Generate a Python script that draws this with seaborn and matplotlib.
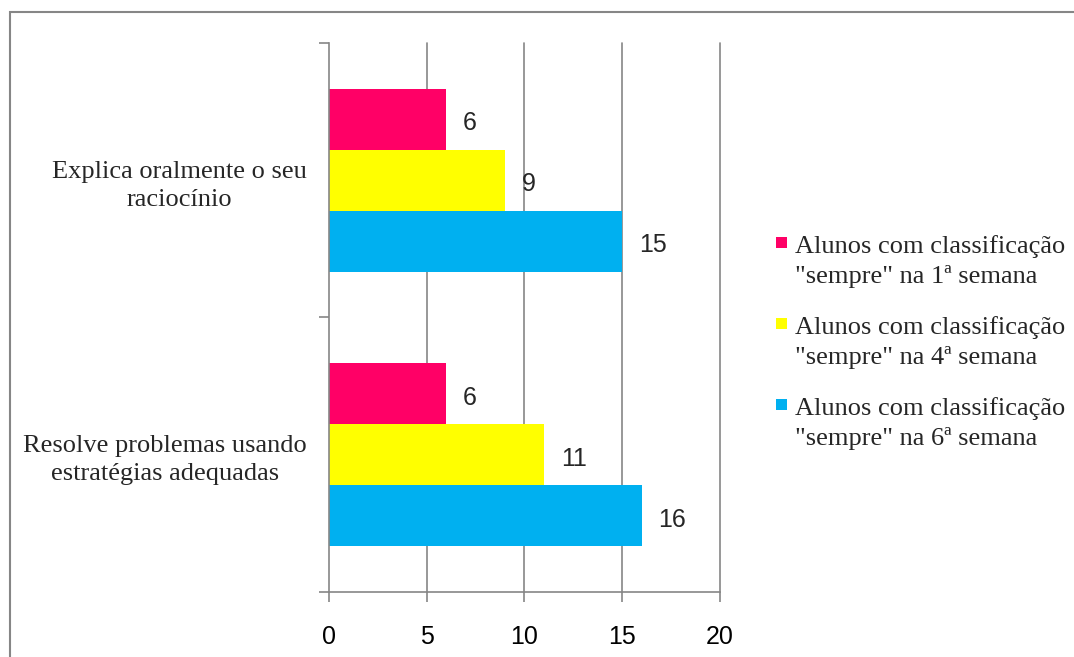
import pandas as pd
import numpy as np
import matplotlib
matplotlib.use('Agg')
import matplotlib.pyplot as plt
import seaborn as sns
from matplotlib.patches import Rectangle

sns.set_style("white")

# dados
categorias = ['Explica oralmente o seu\nraciocínio', 'Resolve problemas usando\nestratégias adequadas']
series = ['Alunos com classificação\n"sempre" na 1ª semana',
          'Alunos com classificação\n"sempre" na 4ª semana',
          'Alunos com classificação\n"sempre" na 6ª semana']
semana1 = [6, 6]
semana4 = [9, 11]
semana6 = [15, 16]
cores = ['#FF0066', '#FFFF00', '#00B0F0']

df = pd.DataFrame({
    'Categoria': categorias * 3,
    'Serie': [series[0]] * 2 + [series[1]] * 2 + [series[2]] * 2,
    'Valor': semana1 + semana4 + semana6,
})

fig = plt.figure(figsize=(10.74, 6.57), dpi=100)
ax = fig.add_axes([0.3063, 0.0989, 0.364, 0.8357])

sns.barplot(data=df, y='Categoria', x='Valor', hue='Serie', order=categorias,
            hue_order=series, palette=cores, orient='h', width=0.667,
            saturation=1, linewidth=0, ax=ax, errorbar=None, legend=False)

cinza = '#868686'
ax.set_xlim(0, 20)
ax.set_ylim(1.5, -0.5)
ax.set_xticks([0, 5, 10, 15, 20])
for v in [5, 10, 15, 20]:
    ax.axvline(v, color=cinza, linewidth=1.2, zorder=0, clip_on=False)
for s in ['top', 'right']:
    ax.spines[s].set_visible(False)
for s in ['left', 'bottom']:
    ax.spines[s].set_color(cinza)
    ax.spines[s].set_linewidth(1.2)

ax.tick_params(axis='x', bottom=True, colors=cinza, length=7, width=1.2, direction='out',
               pad=16.5, labelcolor='black', labelsize=18)
for lab in ax.get_xticklabels():
    lab.set_family('Liberation Sans')

# marcas do eixo Y nas fronteiras das categorias
ax.set_yticks([-0.5, 0.5, 1.5], minor=True)
ax.tick_params(axis='y', which='minor', left=True, length=7, width=1.2, color=cinza)
ax.tick_params(axis='y', which='major', length=0, pad=16, labelsize=19)
ax.set_yticklabels(categorias, family='Liberation Serif', ha='right',
                   multialignment='center', linespacing=1.35)

ax.set_xlabel('')
ax.set_ylabel('')

# rótulos de dados
for cont in ax.containers:
    for barra in cont:
        w = barra.get_width()
        yc = barra.get_y() + barra.get_height() / 2
        ax.annotate(f'{w:.0f}', (w, yc), xytext=(12, -3), textcoords='offset points',
                    ha='left', va='center', fontsize=18, family='Liberation Sans',
                    zorder=5)

# legenda à direita
for i, (serie, cor) in enumerate(zip(series, cores)):
    ytop = 237 + i * 81
    fig.patches.append(Rectangle((776 / 1074, 1 - (ytop + 11) / 657), 11 / 1074, 11 / 657,
                                 transform=fig.transFigure, facecolor=cor, edgecolor='none'))
    fig.text(795 / 1074, 1 - (ytop - 2) / 657, serie, ha='left', va='top',
             fontsize=19, family='Liberation Serif', linespacing=1.38)

fig.patches.append(Rectangle((10 / 1074, -0.05), 1.2, 1 - 12 / 657 + 0.05,
                             transform=fig.transFigure, fill=False,
                             edgecolor=cinza, linewidth=1.5))

fig.savefig('out.png', dpi=100)
